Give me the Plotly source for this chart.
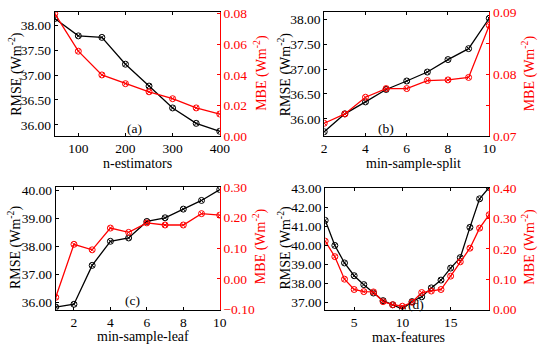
import plotly.graph_objects as go

# ---- data ----
n_estimators = [50, 100, 150, 200, 250, 300, 350, 400]
rmse_a = [38.14, 37.79, 37.76, 37.22, 36.78, 36.34, 36.03, 35.87]
mbe_a = [0.080, 0.0555, 0.040, 0.0343, 0.029, 0.0245, 0.0185, 0.0145]

min_sample_split = [2, 3, 4, 5, 6, 7, 8, 9, 10]
rmse_b = [35.74, 36.10, 36.34, 36.59, 36.76, 36.94, 37.19, 37.41, 38.02]
mbe_b = [0.0721, 0.0736, 0.0763, 0.0777, 0.0777, 0.0790, 0.0791, 0.0795, 0.0879]

min_sample_leaf = [1, 2, 3, 4, 5, 6, 7, 8, 9, 10]
rmse_c = [35.83, 35.93, 37.32, 38.18, 38.30, 38.89, 39.02, 39.33, 39.64, 40.03]
mbe_c = [-0.060, 0.113, 0.095, 0.166, 0.152, 0.183, 0.176, 0.176, 0.213, 0.208]

max_features = [2, 3, 4, 5, 6, 7, 8, 9, 10, 11, 12, 13, 14, 15, 16, 17, 18, 19]
rmse_d = [41.32, 40.00, 39.08, 38.41, 37.94, 37.50, 37.10, 36.88, 36.66, 37.05, 37.30,
          37.77, 38.18, 38.81, 39.36, 40.95, 42.45, 43.05]
mbe_d = [0.225, 0.174, 0.100, 0.066, 0.059, 0.058, 0.026, 0.016, 0.011, 0.024, 0.056,
         0.061, 0.066, 0.110, 0.157, 0.202, 0.268, 0.312]

panel_labels = ["(a)", "(b)", "(c)", "(d)"]
x_titles = ["n-estimators", "min-sample-split", "min-sample-leaf", "max-features"]
left_title = "RMSE (Wm<sup>-2</sup>)"
right_title = "MBE (Wm<sup>-2</sup>)"

W, H = 550, 353
FONT = "Liberation Serif"
BLACK = "#000000"
RED = "#ff0000"
TICK_SIZE = 13.5
TITLE_SIZE = 14

def px_x(a, b):
    return [a / W, b / W]

def px_y(top, bottom):
    return [1 - bottom / H, 1 - top / H]

fig = go.Figure()

panels = [
    dict(x=n_estimators, l=rmse_a, r=mbe_a, xd=px_x(53, 222), yd=px_y(5, 135),
         xr=[50, 400], xdt=100, x0=100, lr=[35.77, 38.275], ldt=0.5, l0=36,
         rr=[0.0, 0.0812], rdt=0.02, r0=0, rminor=None,
         lab=(135, 127), xt=(138, 163), ylt=(12, 70), yrt=(263, 69)),
    dict(x=min_sample_split, l=rmse_b, r=mbe_b, xd=px_x(329, 498), yd=px_y(5, 135),
         xr=[2, 10], xdt=2, x0=2, lr=[35.65, 38.15], ldt=0.5, l0=36,
         rr=[0.07, 0.0901], rdt=0.01, r0=0.07, rminor=0.005,
         lab=(392, 127), xt=(420, 163), ylt=(288, 70), yrt=(538, 69)),
    dict(x=min_sample_leaf, l=rmse_c, r=mbe_c, xd=px_x(54, 222), yd=px_y(188, 316),
         xr=[1, 10], xdt=2, x0=2, lr=[35.74, 40.12], ldt=1, l0=36,
         rr=[-0.10, 0.30], rdt=0.1, r0=0, rminor=None,
         lab=(133, 307), xt=(143, 344), ylt=(12, 251), yrt=(263, 250)),
    dict(x=max_features, l=rmse_d, r=mbe_d, xd=px_x(330, 498), yd=px_y(189, 316),
         xr=[2, 19], xdt=5, x0=5, lr=[36.63, 43.02], ldt=1, l0=37,
         rr=[0.0, 0.40], rdt=0.1, r0=0, rminor=None,
         lab=(423, 311), xt=(415, 345), ylt=(288, 251), yrt=(538, 250)),
]

tickfont = dict(family=FONT, size=TICK_SIZE, color=BLACK)

layout = dict(
    width=W, height=H, margin=dict(l=0, r=0, t=0, b=0),
    paper_bgcolor="white", plot_bgcolor="white", showlegend=False,
    font=dict(family=FONT, size=TICK_SIZE, color=BLACK),
)
annotations = []

def ann(text, x, y, color=BLACK, angle=0, size=TITLE_SIZE):
    return dict(text=text, x=x / W, y=1 - y / H, xref="paper", yref="paper",
                showarrow=False, textangle=angle, xanchor="center", yanchor="middle",
                font=dict(family=FONT, size=size, color=color))

for i, p in enumerate(panels):
    k = i + 1
    xa = "x" if k == 1 else f"x{k}"
    yl_n = 2 * i + 1
    yr_n = 2 * i + 2
    yl = "y" if yl_n == 1 else f"y{yl_n}"
    yr = f"y{yr_n}"

    fig.add_trace(go.Scatter(x=p["x"], y=p["l"], xaxis=xa, yaxis=yl, mode="lines+markers",
                             line=dict(color=BLACK, width=1.3),
                             marker=dict(symbol="circle-x-open", size=6, color=BLACK,
                                         line=dict(width=1, color=BLACK))))
    fig.add_trace(go.Scatter(x=p["x"], y=p["r"], xaxis=xa, yaxis=yr, mode="lines+markers",
                             line=dict(color=RED, width=1.3),
                             marker=dict(symbol="circle-x-open", size=6, color=RED,
                                         line=dict(width=1, color=RED))))

    xkey = "xaxis" if k == 1 else f"xaxis{k}"
    ylkey = "yaxis" if yl_n == 1 else f"yaxis{yl_n}"
    yrkey = f"yaxis{yr_n}"

    layout[xkey] = dict(
        domain=p["xd"], anchor=yl, range=p["xr"], dtick=p["xdt"], tick0=p["x0"],
        showline=True, linecolor=BLACK, linewidth=1, mirror="ticks",
        ticks="inside", ticklen=3, tickcolor=BLACK, showgrid=False, zeroline=False,
        tickfont=tickfont, ticklabelstandoff=0,
    )
    layout[ylkey] = dict(
        domain=p["yd"], anchor=xa, range=p["lr"], dtick=p["ldt"], tick0=p["l0"],
        tickformat=".2f", showline=True, linecolor=BLACK, linewidth=1,
        ticks="inside", ticklen=3, tickcolor=BLACK, showgrid=False, zeroline=False,
        tickfont=tickfont,
    )
    yr_dict = dict(
        domain=p["yd"], anchor=xa, overlaying=yl, side="right", range=p["rr"],
        dtick=p["rdt"], tick0=p["r0"], tickformat=".2f",
        showline=True, linecolor=RED, linewidth=1,
        ticks="inside", ticklen=3, tickcolor=RED, showgrid=False, zeroline=False,
        tickfont=dict(family=FONT, size=TICK_SIZE, color=RED),
    )
    if p["rminor"]:
        yr_dict["minor"] = dict(dtick=p["rminor"], ticks="inside", ticklen=3,
                                tickcolor=RED, showgrid=False)
    layout[yrkey] = yr_dict

    annotations.append(ann(panel_labels[i], p["lab"][0], p["lab"][1], size=TICK_SIZE))
    annotations.append(ann(x_titles[i], p["xt"][0], p["xt"][1]))
    annotations.append(ann(left_title, p["ylt"][0], p["ylt"][1], angle=-90))
    annotations.append(ann(right_title, p["yrt"][0], p["yrt"][1], color=RED, angle=-90))

layout["annotations"] = annotations
fig.update_layout(**layout)
fig.write_html("out.html", config={"displayModeBar": False},
               post_script="document.body.style.margin='0';document.body.style.overflow='hidden';")
